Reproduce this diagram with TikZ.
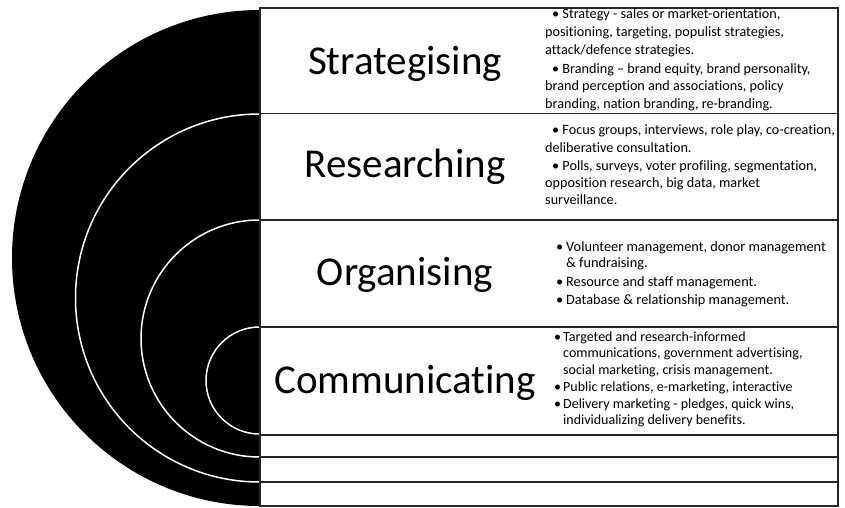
\documentclass[tikz,border=0pt]{standalone}
\usepackage{fontspec}
\setmainfont{Carlito}[Ligatures=NoCommon]
\begin{document}
\begin{tikzpicture}[x=1pt,y=-1pt,
  ttl/.style={font=\fontsize{41}{48}\selectfont, anchor=base, inner sep=0pt},
  bul/.style={font=\fontsize{14.2}{16}\selectfont, anchor=base west, inner sep=0pt},
  bulo/.style={bul, font=\fontsize{14.3}{16}\selectfont},
  bulc/.style={bul, font=\fontsize{14}{16}\selectfont},
  rowbox/.style={draw=black!85, line width=1.8pt, anchor=north west, outer sep=0pt, inner sep=0pt, minimum width=578pt},
  ring/.style={draw=white, line width=1.5pt}]
\useasboundingbox (0,0) rectangle (845,508);
% black half disc
\fill[black] (260,10) arc[start angle=270, end angle=90, radius=248] -- cycle;
% white rings
\draw[ring] (259.5,114) arc[start angle=270, end angle=90, radius=184];
\draw[ring] (259.5,220) arc[start angle=270, end angle=90, radius=118.5];
\draw[ring] (259.5,327) arc[start angle=270, end angle=90, radius=53.5];
% boxes
\node[rowbox, minimum height=105.5pt] (bS) at (260,8) {};
\node[rowbox, minimum height=106.5pt] (bR) at (260,113.5) {};
\node[rowbox, minimum height=107pt] (bO) at (260,220) {};
\node[rowbox, minimum height=108pt] (bC) at (260,327) {};
\node[rowbox, minimum height=22pt] (b5) at (260,435) {};
\node[rowbox, minimum height=25pt] (b6) at (260,457) {};
\node[rowbox, minimum height=24pt] (b7) at (260,482) {};
% titles
\node[ttl] (tS) at (405,75) {Strategising};
\node[ttl] (tR) at (405,177) {Researching};
\node[ttl] (tO) at (405,285) {Organising};
\node[ttl] (tC) at (405,393) {Communicating};
% Strategising
\node[bul] (s1) at (552,19) {• Strategy - sales or market-orientation,};
\node[bul] (s2) at (545,37) {positioning, targeting, populist strategies,};
\node[bul] (s3) at (545,55) {attack/defence strategies.};
\node[bul] (s4) at (552,74) {• Branding – brand equity, brand personality,};
\node[bul] (s5) at (545,91) {brand perception and associations, policy};
\node[bul] (s6) at (545,109) {branding, nation branding, re-branding.};
% Researching
\node[bul] (r1) at (552,135) {• Focus groups, interviews, role play, co-creation,};
\node[bul] (r2) at (545,152) {deliberative consultation.};
\node[bul] (r3) at (552,170) {• Polls, surveys, voter profiling, segmentation,};
\node[bul] (r4) at (545,187) {opposition research, big data, market};
\node[bul] (r5) at (545,204) {surveillance.};
% Organising
\node[bulo] (o1) at (556,251) {\makebox[10pt][l]{•}Volunteer management, donor management};
\node[bulo] (o2) at (566,267) {\& fundraising.};
\node[bulo] (o3) at (556,286) {\makebox[10pt][l]{•}Resource and staff management.};
\node[bulo] (o4) at (556,304) {\makebox[10pt][l]{•}Database \& relationship management.};
% Communicating
\node[bulc] (c1) at (554,341) {\makebox[9pt][l]{•}Targeted and research-informed};
\node[bulc] (c2) at (563,357) {communications, government advertising,};
\node[bulc] (c3) at (563,374) {social marketing, crisis management.};
\node[bulc] (c4) at (554,391) {\makebox[9pt][l]{•}Public relations, e-marketing, interactive};
\node[bulc] (c5) at (554,408) {\makebox[9pt][l]{•}Delivery marketing - pledges, quick wins,};
\node[bulc] (c6) at (563,424) {individualizing delivery benefits.};
\end{tikzpicture}
\end{document}
